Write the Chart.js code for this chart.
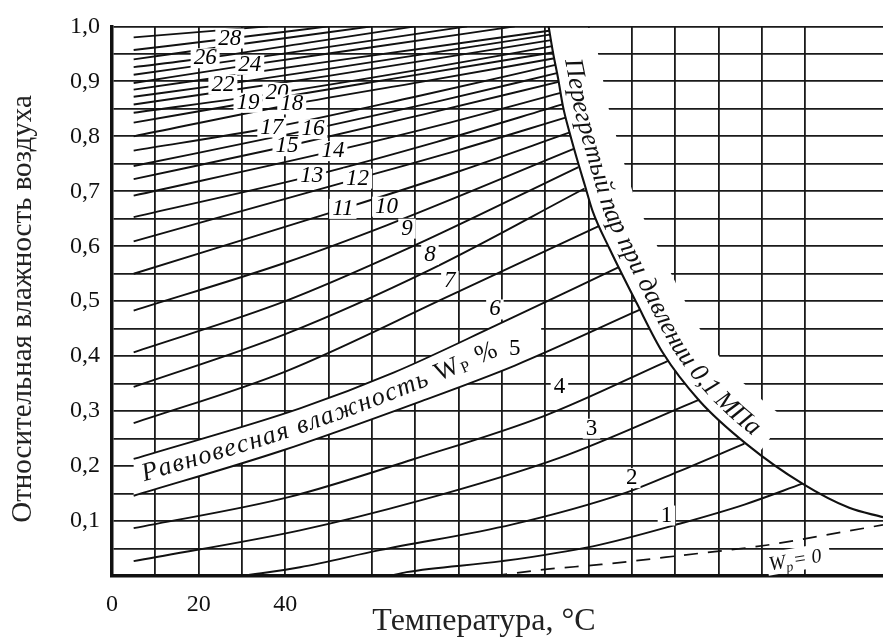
<!DOCTYPE html>
<html>
<head>
<meta charset="utf-8">
<script src="https://cdn.jsdelivr.net/npm/chart.js@4.4.1/dist/chart.umd.min.js"></script>
<style>
  html, body { margin: 0; padding: 0; background: #fff; }
  #wrap { width: 883px; height: 637px; }
</style>
</head>
<body>
<div id="wrap"><canvas id="graf" width="883" height="637"></canvas></div>
<script>
// равновесная влажность древесины Wp, % (последняя кривая без подписи)
var wpLevels = [1, 2, 3, 4, 5, 6, 7, 8, 9, 10, 11, 12, 13, 14, 15, 16, 17, 18, 19, 20, 21, 22, 23, 24, 25, 26, 27, 28, 30];

// температура, °C — точки каждой кривой
var wpTemps = [
    [64, 68, 90, 111, 131, 146, 159.4],
    [30, 43.4, 61.8, 92.5, 118, 131, 146],
    [5, 43.4, 71, 103.3, 135.6],
    [5, 41, 69.4, 100, 128.5],
    [5, 38.8, 71, 93, 122],
    [5, 43.4, 65, 88.4, 117],
    [5, 40, 78, 112.5],
    [5, 40, 73.4, 109.1],
    [5, 40, 68.1, 107.7],
    [5, 40, 63.4, 106.6],
    [5, 53.3, 80, 105.7],
    [5, 56.7, 80, 104.7],
    [5, 46.1, 75, 104],
    [5, 51, 78, 103.6],
    [5, 40.4, 72, 103.1],
    [5, 46.4, 75, 102.7],
    [5, 36.9, 70, 102.4],
    [5, 41.5, 72, 102.2],
    [5, 31.4, 65, 102],
    [5, 38.1, 70, 101.7],
    [5, 50, 101.4],
    [5, 25.6, 60, 101.1],
    [5, 50, 100.9],
    [5, 31.8, 60, 93],
    [5, 40, 82],
    [5, 21.5, 45, 70],
    [5, 30, 60],
    [5, 27.2, 50],
    [5, 36]
];

// относительная влажность воздуха — те же точки
var wpHumid = [
    [0.0, 0.007, 0.027, 0.054, 0.095, 0.13, 0.168],
    [0.0, 0.016, 0.047, 0.094, 0.15, 0.191, 0.241],
    [0.027, 0.083, 0.137, 0.215, 0.321],
    [0.087, 0.144, 0.212, 0.292, 0.392],
    [0.146, 0.227, 0.317, 0.383, 0.485],
    [0.213, 0.305, 0.37, 0.455, 0.562],
    [0.278, 0.372, 0.51, 0.637],
    [0.344, 0.44, 0.557, 0.705],
    [0.407, 0.5, 0.595, 0.744],
    [0.483, 0.57, 0.638, 0.777],
    [0.55, 0.668, 0.736, 0.807],
    [0.609, 0.723, 0.775, 0.834],
    [0.653, 0.728, 0.79, 0.858],
    [0.692, 0.773, 0.825, 0.879],
    [0.722, 0.782, 0.84, 0.899],
    [0.746, 0.813, 0.863, 0.915],
    [0.774, 0.816, 0.872, 0.93],
    [0.80, 0.858, 0.9, 0.942],
    [0.825, 0.861, 0.905, 0.953],
    [0.843, 0.879, 0.92, 0.964],
    [0.858, 0.91, 0.975],
    [0.872, 0.894, 0.935, 0.985],
    [0.885, 0.936, 0.992],
    [0.897, 0.93, 0.962, 1.0],
    [0.912, 0.951, 1.0],
    [0.926, 0.942, 0.97, 1.0],
    [0.94, 0.968, 1.0],
    [0.957, 0.978, 1.0],
    [0.98, 1.0]
];

// перегретый пар при 0,1 МПа
var satTemp = [100.8, 101.8, 103.0, 104.1, 105.7, 107.3, 109.2, 111.0, 114.9, 121.1, 127.1, 135.6, 146.5, 159.4, 170.2, 178];
var satHumid = [1.0, 0.953, 0.905, 0.855, 0.805, 0.76, 0.71, 0.663, 0.595, 0.497, 0.407, 0.319, 0.24, 0.168, 0.124, 0.107];

// Wp = 0
var dryTemp = [88, 100, 113, 132, 151, 170, 178];
var dryHumid = [0.0, 0.012, 0.021, 0.038, 0.056, 0.082, 0.093];

// подписи кривых
var labelNums = ['28', '26', '24', '22', '20', '19', '18', '17', '16', '15', '14', '13', '12', '11', '10', '9', '8', '7', '6', '5', '4', '3', '2', '1'];
var labelTemp = [27.2, 21.5, 31.8, 25.6, 38.1, 31.4, 41.5, 36.9, 46.4, 40.4, 51.0, 46.1, 56.7, 53.3, 63.4, 68.1, 73.4, 78.0, 88.4, 93.0, 103.3, 110.7, 120.0, 128.0];
var labelHumid = [0.978, 0.942, 0.930, 0.894, 0.879, 0.861, 0.858, 0.816, 0.813, 0.782, 0.773, 0.728, 0.723, 0.668, 0.672, 0.632, 0.584, 0.537, 0.485, 0.413, 0.344, 0.268, 0.178, 0.110];

var xLabeled = [0, 20, 40];

var SERIF = '"Liberation Serif", "Times New Roman", serif';
var INK = '#111';

var bandEndTemp = 100;               // белая полоса между кривыми 5 и 6
var bandTextFrom = 7, bandTextTo = 89;
var satTextFrom = 0.935, satTextTo = 0.24;
var dryLabelTemp = 158.5, dryLabelHumid = 0.03;

var satIdx = wpTemps.length;
var dryIdx = wpTemps.length + 1;

function gustaLinija(chart, idx) {
    var meta = chart.getDatasetMeta(idx);
    meta.dataset.updateControlPoints(chart.chartArea, 'x');
    var p = meta.data, out = [];
    for (var i = 0; i < p.length - 1; i++) {
        var a = p[i], b = p[i + 1];
        var c1x = a.cp2x !== undefined ? a.cp2x : a.x, c1y = a.cp2y !== undefined ? a.cp2y : a.y;
        var c2x = b.cp1x !== undefined ? b.cp1x : b.x, c2y = b.cp1y !== undefined ? b.cp1y : b.y;
        for (var k = 0; k < 24; k++) {
            var t = k / 24, u = 1 - t;
            out.push({
                x: u * u * u * a.x + 3 * u * u * t * c1x + 3 * u * t * t * c2x + t * t * t * b.x,
                y: u * u * u * a.y + 3 * u * u * t * c1y + 3 * u * t * t * c2y + t * t * t * b.y
            });
        }
    }
    var z = p[p.length - 1];
    out.push({x: z.x, y: z.y});
    return out;
}

function putanja(pts) {
    var clean = [pts[0]];
    for (var i = 1; i < pts.length; i++) {
        var q = clean[clean.length - 1];
        if (Math.hypot(pts[i].x - q.x, pts[i].y - q.y) > 0.05) clean.push(pts[i]);
    }
    var cum = [0];
    for (var j = 1; j < clean.length; j++) {
        cum.push(cum[j - 1] + Math.hypot(clean[j].x - clean[j - 1].x, clean[j].y - clean[j - 1].y));
    }
    return {pts: clean, cum: cum, len: cum[cum.length - 1]};
}

function tockaNa(P, s) {
    var c = P.cum, i = 1;
    while (i < c.length - 1 && c[i] < s) i++;
    var a = P.pts[i - 1], b = P.pts[i];
    var t = (s - c[i - 1]) / ((c[i] - c[i - 1]) || 1);
    return {x: a.x + (b.x - a.x) * t, y: a.y + (b.y - a.y) * t, a: Math.atan2(b.y - a.y, b.x - a.x)};
}

function sNaY(P, y) {
    for (var i = 0; i < P.pts.length; i++) {
        if (P.pts[i].y >= y) return P.cum[i];
    }
    return P.len;
}

function yNaX(pts, x) {
    for (var i = 1; i < pts.length; i++) {
        if (pts[i].x >= x) {
            var a = pts[i - 1], b = pts[i];
            return a.y + (b.y - a.y) * (x - a.x) / ((b.x - a.x) || 1);
        }
    }
    return pts[pts.length - 1].y;
}

// буквы вдоль кривой
function tekstPoPutanji(ctx, P, runs, s0, s1, off) {
    var total = 0, n = 0;
    runs.forEach(function(r) {
        ctx.font = r.font;
        for (var ch of r.t) { total += ctx.measureText(ch).width; n++; }
    });
    var gap = n > 1 ? Math.max(-1, ((s1 - s0) - total) / (n - 1)) : 0;
    var s = s0;
    ctx.textAlign = 'center';
    ctx.textBaseline = 'middle';
    runs.forEach(function(r) {
        ctx.font = r.font;
        for (var ch of r.t) {
            var w = ctx.measureText(ch).width;
            var p = tockaNa(P, s + w / 2);
            ctx.save();
            ctx.translate(p.x, p.y);
            ctx.rotate(p.a);
            ctx.fillText(ch, 0, -off + (r.dy || 0));
            ctx.restore();
            s += w + gap;
        }
    });
}

var pozadine = {
    id: 'pozadine',
    beforeDatasetsDraw: function(chart) {
        var ctx = chart.ctx, ar = chart.chartArea;
        ctx.save();
        ctx.beginPath();
        ctx.rect(ar.left + 2, ar.top + 1.5, ar.right - ar.left - 2, ar.bottom - ar.top - 3);
        ctx.clip();
        ctx.fillStyle = '#fff';
        ctx.strokeStyle = '#fff';

        var xEnd = chart.scales.x.getPixelForValue(bandEndTemp);
        var d5 = gustaLinija(chart, 4).filter(function(p) { return p.x <= xEnd; });
        var d6 = gustaLinija(chart, 5).filter(function(p) { return p.x <= xEnd; });
        ctx.beginPath();
        d5.forEach(function(p, i) { if (i) ctx.lineTo(p.x, p.y); else ctx.moveTo(p.x, p.y); });
        d6.reverse().forEach(function(p) { ctx.lineTo(p.x, p.y); });
        ctx.closePath();
        ctx.fill();

        var S = putanja(gustaLinija(chart, satIdx));
        var sEnd = sNaY(S, chart.scales.y.getPixelForValue(satTextTo)) + 16;
        ctx.lineWidth = 44;
        ctx.lineCap = 'butt';
        ctx.lineJoin = 'round';
        ctx.beginPath();
        for (var s = 0; s <= sEnd; s += 2) {
            var q = tockaNa(S, s);
            var ox = q.x + Math.sin(q.a) * 22, oy = q.y - Math.cos(q.a) * 22;
            if (s === 0) ctx.moveTo(ox, oy); else ctx.lineTo(ox, oy);
        }
        ctx.stroke();
        ctx.restore();
    },
    afterDatasetsDraw: function(chart) {
        var ctx = chart.ctx, xs = chart.scales.x, ys = chart.scales.y;
        ctx.save();
        ctx.fillStyle = INK;

        // надпись в полосе между кривыми 5 и 6
        var d5 = gustaLinija(chart, 4), d6 = gustaLinija(chart, 5);
        var xa = xs.getPixelForValue(bandTextFrom), xb = xs.getPixelForValue(bandTextTo);
        var mid = [];
        for (var x = xa; x <= xb; x += 2) mid.push({x: x, y: (yNaX(d5, x) + yNaX(d6, x)) / 2});
        var M = putanja(mid);
        tekstPoPutanji(ctx, M, [
            {t: 'Равновесная влажность ', font: 'italic 26px ' + SERIF},
            {t: 'W', font: '26px ' + SERIF},
            {t: 'P', font: '16px ' + SERIF, dy: 5},
            {t: ' %', font: '26px ' + SERIF}
        ], 0, M.len, 0);

        // надпись вдоль кривой перегретого пара
        var S = putanja(gustaLinija(chart, satIdx));
        var s0 = sNaY(S, ys.getPixelForValue(satTextFrom));
        var s1 = sNaY(S, ys.getPixelForValue(satTextTo));
        tekstPoPutanji(ctx, S, [
            {t: 'Перегретый пар при давлении 0,1 МПа', font: 'italic 26px ' + SERIF}
        ], s0, s1, 17);

        // номера кривых
        ctx.textAlign = 'center';
        ctx.textBaseline = 'middle';
        for (var i = 0; i < labelNums.length; i++) {
            var t = labelNums[i];
            ctx.font = (Number(t) >= 6 ? 'italic ' : '') + '23px ' + SERIF;
            var px = xs.getPixelForValue(labelTemp[i]), py = ys.getPixelForValue(labelHumid[i]);
            var w = ctx.measureText(t).width;
            ctx.fillStyle = '#fff';
            ctx.fillRect(px - w / 2 - 3, py - 10, w + 6, 20);
            ctx.fillStyle = '#000';
            ctx.fillText(t, px, py);
        }

        // Wp = 0
        var D = gustaLinija(chart, dryIdx);
        var cx = xs.getPixelForValue(dryLabelTemp), cy = ys.getPixelForValue(dryLabelHumid);
        var ang = Math.atan2(yNaX(D, cx + 20) - yNaX(D, cx - 20), 40);
        ctx.save();
        ctx.translate(cx, cy);
        ctx.rotate(ang);
        ctx.fillStyle = '#fff';
        ctx.fillRect(-32, -12, 64, 23);
        ctx.fillStyle = INK;
        ctx.textAlign = 'left';
        ctx.textBaseline = 'alphabetic';
        ctx.font = 'italic 20px ' + SERIF;
        ctx.fillText('W', -30, 6);
        var wW = ctx.measureText('W').width;
        ctx.font = 'italic 14px ' + SERIF;
        ctx.fillText('p', -30 + wW, 10);
        var wp = ctx.measureText('p').width;
        ctx.font = 'italic 20px ' + SERIF;
        ctx.fillText('= 0', -30 + wW + wp + 1, 6);
        ctx.restore();

        ctx.restore();
    },
    afterDraw: function(chart) {
        var ctx = chart.ctx;
        ctx.save();
        ctx.fillStyle = '#222';
        ctx.textAlign = 'center';
        ctx.textBaseline = 'middle';
        ctx.font = '32px ' + SERIF;
        ctx.fillText('Температура, °C', 484, 622);
        ctx.font = '29px ' + SERIF;
        ctx.translate(23, 309);
        ctx.rotate(-Math.PI / 2);
        ctx.fillText('Относительная влажность воздуха', 0, 0);
        ctx.restore();
    }
};

var skupovi = [];
for (var i = 0; i < wpTemps.length; i++) {
    skupovi.push({
        label: 'Wp ' + wpLevels[i],
        data: wpTemps[i].map(function(t, j) { return {x: t, y: wpHumid[i][j]}; }),
        borderColor: INK,
        borderWidth: 1.9,
        pointRadius: 0,
        cubicInterpolationMode: 'monotone',
        fill: false
    });
}
skupovi.push({
    label: 'Перегретый пар',
    data: satTemp.map(function(t, j) { return {x: t, y: satHumid[j]}; }),
    borderColor: INK,
    borderWidth: 2.1,
    pointRadius: 0,
    cubicInterpolationMode: 'monotone',
    fill: false
});
skupovi.push({
    label: 'Wp = 0',
    data: dryTemp.map(function(t, j) { return {x: t, y: dryHumid[j]}; }),
    borderColor: INK,
    borderWidth: 1.7,
    borderDash: [14, 10],
    pointRadius: 0,
    cubicInterpolationMode: 'monotone',
    fill: false
});

var ctx = document.getElementById('graf').getContext('2d');
var myChart = new Chart(ctx, {
    type: 'line',
    data: { datasets: skupovi },
    options: {
        responsive: false,
        animation: false,
        devicePixelRatio: 1,
        layout: { padding: { top: 21, right: 0, left: 0, bottom: 0 } },
        plugins: { legend: { display: false }, tooltip: { enabled: false } },
        scales: {
            x: {
                type: 'linear',
                min: 0,
                max: 178,
                afterBuildTicks: function(s) {
                    s.ticks = s.ticks.filter(function(t) { return Math.round(t.value) % 10 === 0 && t.value <= 170; });
                },
                afterFit: function(s) { s.height = 61; },
                ticks: {
                    stepSize: 10,
                    autoSkip: false,
                    maxRotation: 0,
                    padding: 14,
                    color: INK,
                    font: { family: SERIF, size: 24 },
                    callback: function(v) {
                        var r = Math.round(v);
                        return xLabeled.indexOf(r) >= 0 ? String(r) : '';
                    }
                },
                grid: { color: '#1a1a1a', lineWidth: 1.8, drawTicks: false },
                border: { display: true, color: INK, width: 3.5 }
            },
            y: {
                type: 'linear',
                min: 0,
                max: 1,
                afterFit: function(s) { s.width = 112; },
                ticks: {
                    stepSize: 0.05,
                    autoSkip: false,
                    padding: 12,
                    color: INK,
                    font: { family: SERIF, size: 24 },
                    callback: function(v) {
                        var k = Math.round(v * 100);
                        return (k % 10 === 0 && k > 0) ? (k / 100).toFixed(1).replace('.', ',') : '';
                    }
                },
                grid: { color: '#1a1a1a', lineWidth: 1.8, drawTicks: false },
                border: { display: true, color: INK, width: 3.5 }
            }
        }
    },
    plugins: [pozadine]
});
</script>
</body>
</html>
